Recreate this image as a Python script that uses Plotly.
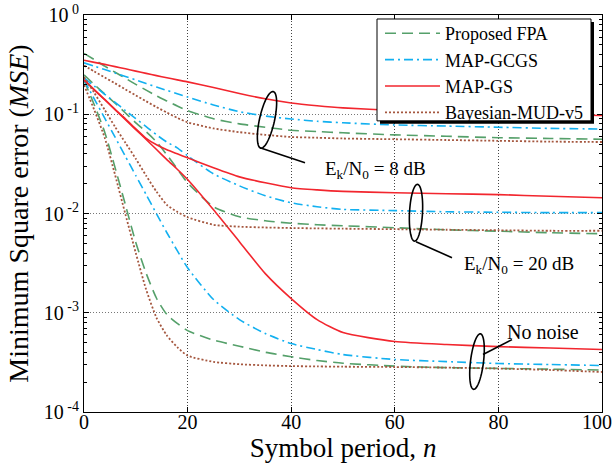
import math
import plotly.graph_objects as go

# ---------------- data ----------------
n = [0, 2, 4, 6, 8, 10, 12, 14, 16, 18, 20, 25, 30, 35, 40, 45, 50, 60, 70, 80, 90, 100]

# Ek/N0 = 8 dB
fpa_8 = [0.41, 0.355, 0.305, 0.265, 0.23, 0.2, 0.175, 0.153, 0.136, 0.121, 0.109, 0.09, 0.08, 0.074, 0.069, 0.067, 0.065, 0.062, 0.06, 0.058, 0.057, 0.056]
gcgs_8 = [0.33, 0.305, 0.282, 0.26, 0.24, 0.222, 0.204, 0.188, 0.174, 0.161, 0.149, 0.124, 0.106, 0.096, 0.0895, 0.085, 0.082, 0.078, 0.076, 0.074, 0.072, 0.071]
gs_8 = [0.35, 0.333, 0.318, 0.302, 0.287, 0.272, 0.258, 0.245, 0.233, 0.222, 0.212, 0.186, 0.162, 0.143, 0.13, 0.122, 0.116, 0.109, 0.105, 0.102, 0.099, 0.097]
bay_8 = [0.31, 0.27, 0.235, 0.205, 0.178, 0.155, 0.135, 0.118, 0.104, 0.092, 0.083, 0.072, 0.066, 0.062, 0.059, 0.058, 0.057, 0.056, 0.055, 0.054, 0.053, 0.0525]

# Ek/N0 = 20 dB
fpa_20 = [0.249, 0.199, 0.16, 0.129, 0.103, 0.0819, 0.0665, 0.0527, 0.039, 0.0282, 0.0204, 0.0117, 0.00927, 0.00845, 0.00798, 0.0077, 0.00753, 0.00719, 0.00686, 0.00663, 0.0064, 0.00625]
gcgs_20 = [0.232, 0.192, 0.159, 0.132, 0.109, 0.0904, 0.0752, 0.0621, 0.0524, 0.0459, 0.0381, 0.0251, 0.019, 0.0151, 0.0128, 0.0117, 0.011, 0.0107, 0.0104, 0.0103, 0.0102, 0.0102]
gs_20 = [0.222, 0.176, 0.141, 0.112, 0.0898, 0.0713, 0.0572, 0.0492, 0.0438, 0.0399, 0.0364, 0.0289, 0.0234, 0.0204, 0.0182, 0.0173, 0.0167, 0.0162, 0.0158, 0.0155, 0.0149, 0.0144]
bay_20 = [0.238, 0.164, 0.1107, 0.0746, 0.0515, 0.0356, 0.024, 0.0166, 0.0122, 0.0104, 0.00917, 0.0077, 0.00736, 0.00723, 0.00714, 0.00708, 0.00703, 0.00695, 0.00686, 0.00678, 0.0067, 0.0067]

# No noise
fpa_0 = [0.22, 0.124, 0.066, 0.029, 0.0122, 0.0051, 0.0025, 0.0014, 0.00096, 0.00078, 0.00066, 0.00053, 0.00046, 0.0004, 0.00036, 0.00033, 0.00031, 0.00029, 0.00028, 0.000275, 0.00027, 0.000265]
gcgs_0 = [0.222, 0.142, 0.0914, 0.0587, 0.0376, 0.0241, 0.0155, 0.00994, 0.0064, 0.00422, 0.00284, 0.00136, 0.000853, 0.000617, 0.000489, 0.000426, 0.000379, 0.000338, 0.000322, 0.000308, 0.000301, 0.000294]
gs_0 = [0.222, 0.176, 0.14, 0.111, 0.0882, 0.07, 0.0557, 0.0441, 0.0349, 0.0279, 0.022, 0.0109, 0.0052, 0.00248, 0.00139, 0.000853, 0.000631, 0.000513, 0.000478, 0.000456, 0.000441, 0.000426]
bay_0 = [0.197, 0.11, 0.058, 0.0245, 0.0098, 0.004, 0.00171, 0.00089, 0.00059, 0.00045, 0.00037, 0.00032, 0.000303, 0.000295, 0.00029, 0.000288, 0.000286, 0.000284, 0.00028, 0.000274, 0.000265, 0.000253]

series_names = ["Proposed FPA", "MAP-GCGS", "MAP-GS", "Bayesian-MUD-v5"]
x_ticks = [0, 20, 40, 60, 80, 100]
x_labels = ["0", "20", "40", "60", "80", "100\u2007"]
y_exps = [-4, -3, -2, -1, 0]

# ---------------- styling ----------------
FONT = "Liberation Serif, Times New Roman, Times, DejaVu Serif, serif"
W, H = 614, 471
L, R, T, B = 84, 602, 15, 412.5

styles = {
    "Proposed FPA": dict(color="#55A06A", dash="11px,6px", width=1.6),
    "MAP-GCGS": dict(color="#12B0F0", dash="9px,4px,2px,4px", width=1.6),
    "MAP-GS": dict(color="#F2262E", dash="solid", width=1.6),
    "Bayesian-MUD-v5": dict(color="#A5573F", dash="2px,2px", width=1.8),
}
groups = {
    "Proposed FPA": [fpa_8, fpa_20, fpa_0],
    "MAP-GCGS": [gcgs_8, gcgs_20, gcgs_0],
    "MAP-GS": [gs_8, gs_20, gs_0],
    "Bayesian-MUD-v5": [bay_8, bay_20, bay_0],
}

fig = go.Figure()
for name in series_names:
    for i, ys in enumerate(groups[name]):
        fig.add_trace(go.Scatter(
            x=n, y=ys, mode="lines", name=name, legendgroup=name,
            showlegend=(i == 0),
            line=dict(color=styles[name]["color"], dash=styles[name]["dash"],
                      width=styles[name]["width"], shape="spline", smoothing=0.6),
        ))


def paper(px, py):
    return (px - L) / (R - L), (B - py) / (B - T)


def ellipse_path(cx, cy, a, b, tilt_deg):
    th = math.radians(tilt_deg)
    pts = []
    for k in range(73):
        t = 2 * math.pi * k / 72
        px = cx + b * math.cos(t) * math.cos(th) + a * math.sin(t) * math.sin(th)
        py = cy + b * math.cos(t) * math.sin(th) - a * math.sin(t) * math.cos(th)
        pts.append(paper(px, py))
    return "M" + " L".join(f"{x:.5f},{y:.5f}" for x, y in pts) + " Z"


shapes = []
# legend box with drop shadow (drawn as shapes; legend itself is transparent on top)
lx0, ly0, lx1, ly1 = 377, 19, 591, 121
s0 = paper(lx0 + 3, ly0 + 3)
s1 = paper(lx1 + 3, ly1 + 3)
shapes.append(dict(type="rect", xref="paper", yref="paper", x0=s0[0], y0=s0[1], x1=s1[0], y1=s1[1],
                   fillcolor="black", line=dict(width=0), layer="above"))
b0 = paper(lx0, ly0)
b1 = paper(lx1, ly1)
shapes.append(dict(type="rect", xref="paper", yref="paper", x0=b0[0], y0=b0[1], x1=b1[0], y1=b1[1],
                   fillcolor="white", line=dict(color="black", width=1), layer="above"))

# ellipses + leader lines
for (cx, cy, a, b, tilt), (x0, y0, x1, y1) in [
    ((267, 120, 29, 7.5, 12.5), (260, 148, 305, 163)),
    ((416, 213, 28.5, 6.5, 3), (416, 242, 452, 258)),
    ((477, 362, 28, 6.5, 7), (483, 355, 512, 340)),
]:
    shapes.append(dict(type="path", xref="paper", yref="paper", path=ellipse_path(cx, cy, a, b, tilt),
                       line=dict(color="black", width=1.6)))
    p0 = paper(x0, y0)
    p1 = paper(x1, y1)
    shapes.append(dict(type="line", xref="paper", yref="paper", x0=p0[0], y0=p0[1], x1=p1[0], y1=p1[1],
                       line=dict(color="black", width=1.6)))

annotations = []
for text, px, py, fs in [
    ("E<sub>k</sub>/N<sub>0</sub> = 8 dB", 375, 170, 19),
    ("E<sub>k</sub>/N<sub>0</sub> = 20 dB", 519, 265, 19),
    ("No noise", 543, 332, 20),
]:
    ax, ay = paper(px, py)
    annotations.append(dict(text=text, x=ax, y=ay, xref="paper", yref="paper", showarrow=False,
                            xanchor="center", yanchor="middle",
                            font=dict(family=FONT, size=fs, color="black")))

lp = paper(380, 15)
fig.update_layout(
    width=W, height=H,
    margin=dict(l=L, r=W - R, t=T, b=H - B, autoexpand=False),
    paper_bgcolor="white", plot_bgcolor="white",
    font=dict(family=FONT, color="black", size=20),
    shapes=shapes, annotations=annotations,
    showlegend=True,
    legend=dict(x=lp[0], y=lp[1], xanchor="left", yanchor="top",
                bgcolor="rgba(0,0,0,0)", borderwidth=0,
                font=dict(family=FONT, size=18, color="black"),
                itemwidth=55, tracegroupgap=0),
)
fig.update_xaxes(
    range=[0, 100], tickvals=x_ticks, ticktext=x_labels,
    ticks="inside", ticklen=5, tickcolor="black", mirror="ticks",
    showline=True, linecolor="black", linewidth=1.2, automargin=False,
    showgrid=True, gridcolor="#444", griddash="1px,2px", gridwidth=1, zeroline=False,
    tickfont=dict(family=FONT, size=20, color="black"), ticklabeloverflow="allow",
    ticklabelstandoff=-8,
    title=dict(text="Symbol period, <i>n</i>", font=dict(family=FONT, size=27, color="black"), standoff=1),
)
minor_vals = [m * 10 ** e for e in y_exps[:-1] for m in range(2, 10)]
fig.update_yaxes(
    type="log", range=[-4, 0],
    tickvals=[10 ** e for e in y_exps],
    ticktext=[f"10<sup> {e}</sup>" for e in y_exps],
    ticks="inside", ticklen=5, tickcolor="black", mirror="ticks",
    minor=dict(tickvals=minor_vals, ticks="inside", ticklen=3, tickcolor="black", showgrid=False),
    showline=True, linecolor="black", linewidth=1.2, automargin=False,
    showgrid=True, gridcolor="#777", griddash="1px,2px", gridwidth=1, zeroline=False,
    tickfont=dict(family=FONT, size=20, color="black"), ticklabeloverflow="allow",
    title=dict(text="Minimum Square error (<i>MSE</i>)", font=dict(family=FONT, size=28, color="black"), standoff=6),
)

fig.write_html("out.html")
